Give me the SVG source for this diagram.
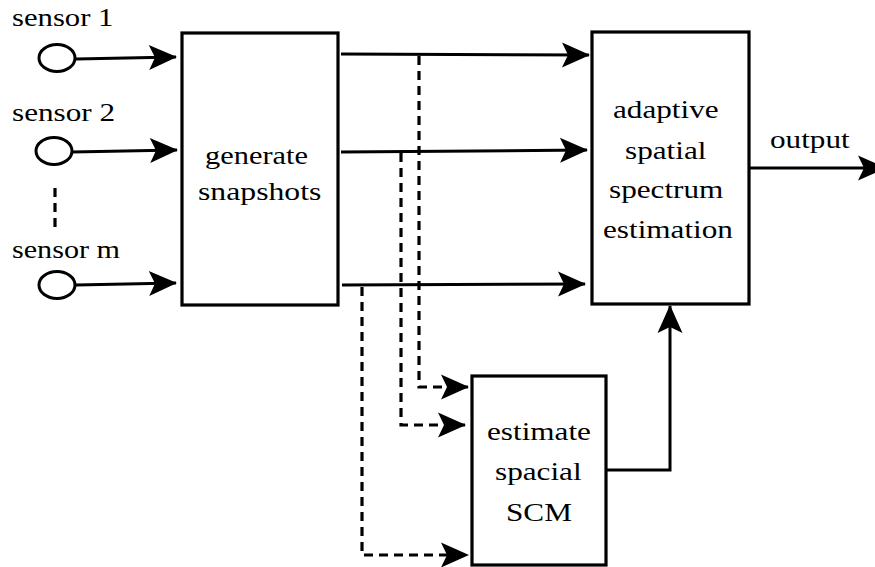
<svg xmlns="http://www.w3.org/2000/svg" width="875" height="567" viewBox="0 0 875 567">
<defs>
<style>
.box{fill:#fff;stroke:#000;stroke-width:3.2}
.sensor{fill:#fff;stroke:#000;stroke-width:3}
.edge{fill:none;stroke:#000;stroke-width:3}
.dash{fill:none;stroke:#000;stroke-width:3.2;stroke-dasharray:9 6}
.lbl{font-family:"Liberation Serif",serif;font-size:26px;fill:#000}
</style>
<marker id="arrow" markerUnits="userSpaceOnUse" markerWidth="30" markerHeight="28" refX="27" refY="12.5" orient="auto" overflow="visible">
<path d="M0,0 L28,12.5 L0,25 L6,12.5 Z" fill="#000"/>
</marker>
</defs>
<rect width="875" height="567" fill="#fff"/>
<g id="connectors">
<path class="edge" d="M76,59 L176,57" marker-end="url(#arrow)"/>
<path class="edge" d="M72,152 L177,150" marker-end="url(#arrow)"/>
<path class="edge" d="M76,285 L176,283" marker-end="url(#arrow)"/>
<path class="dash" d="M55,188 L55,228"/>
<path class="edge" d="M341,54 L589,55" marker-end="url(#arrow)"/>
<path class="edge" d="M341,152 L587,150" marker-end="url(#arrow)"/>
<path class="edge" d="M342,285 L585,284" marker-end="url(#arrow)"/>
<path class="dash" d="M419,56 L419,387 L468,387" marker-end="url(#arrow)"/>
<path class="dash" d="M401,153 L401,425 L465,425" marker-end="url(#arrow)"/>
<path class="dash" d="M362,287 L362,555 L468,555" marker-end="url(#arrow)"/>
<path class="edge" d="M606,470 L670,470 L670,306" marker-end="url(#arrow)"/>
<path class="edge" d="M749,168 L885,168" marker-end="url(#arrow)"/>
</g>
<g id="sensor1">
<ellipse class="sensor" cx="57" cy="58" rx="18" ry="13.5"/>
<text class="lbl" transform="translate(12,26) scale(1.18,1)">sensor 1</text>
</g>
<g id="sensor2">
<ellipse class="sensor" cx="54" cy="151" rx="18" ry="13.5"/>
<text class="lbl" transform="translate(12,121) scale(1.2,1)">sensor 2</text>
</g>
<g id="sensorm">
<ellipse class="sensor" cx="57" cy="285" rx="18" ry="13.5"/>
<text class="lbl" transform="translate(12,258) scale(1.16,1)">sensor m</text>
</g>
<g id="generate">
<rect class="box" x="182" y="33" width="156" height="272"/>
<text class="lbl" transform="translate(205,164) scale(1.17,1)">generate</text>
<text class="lbl" transform="translate(198,200) scale(1.22,1)">snapshots</text>
</g>
<g id="adaptive">
<rect class="box" x="592" y="32" width="157" height="272"/>
<text class="lbl" transform="translate(613,118) scale(1.2,1)">adaptive</text>
<text class="lbl" transform="translate(625,159) scale(1.2,1)">spatial</text>
<text class="lbl" transform="translate(609,198) scale(1.2,1)">spectrum</text>
<text class="lbl" transform="translate(603,238) scale(1.2,1)">estimation</text>
</g>
<g id="output">
<text class="lbl" transform="translate(770,148) scale(1.2,1)">output</text>
</g>
<g id="scm">
<rect class="box" x="472" y="376" width="134" height="189"/>
<text class="lbl" transform="translate(487,440) scale(1.2,1)">estimate</text>
<text class="lbl" transform="translate(495,480) scale(1.2,1)">spacial</text>
<text class="lbl" transform="translate(506,521) scale(1.2,1)">SCM</text>
</g>
</svg>
